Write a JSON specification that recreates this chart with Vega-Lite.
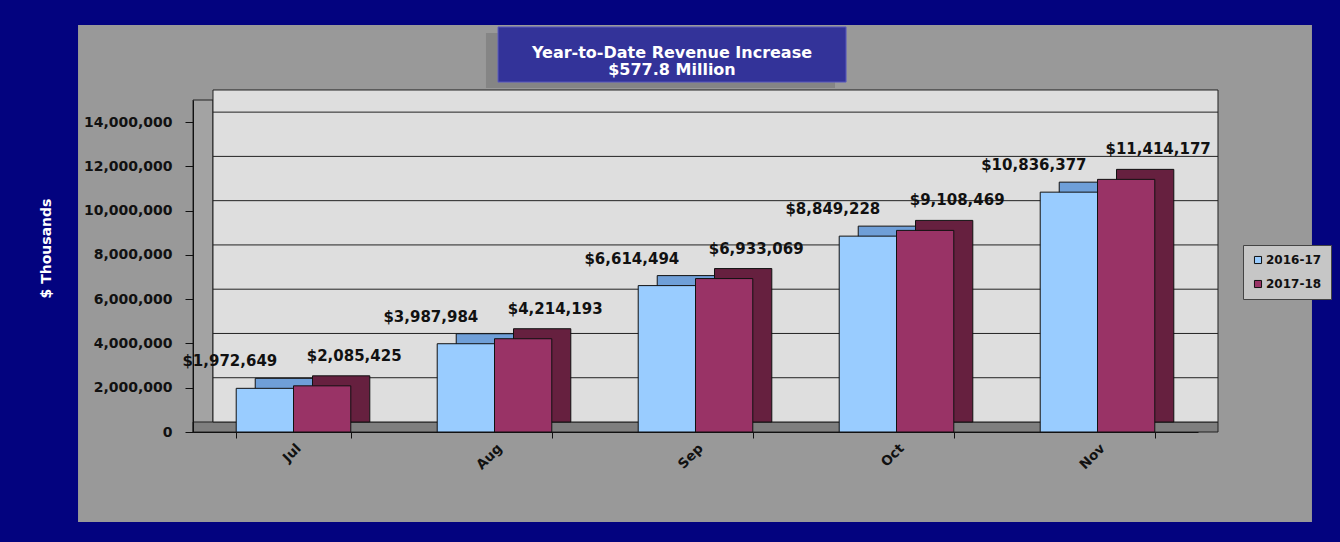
{
  "$schema": "https://vega.github.io/schema/vega-lite/v6.json",
  "width": 1005,
  "height": 332,
  "autosize": "none",
  "padding": {"left": 193, "top": 100, "right": 142, "bottom": 110},
  "background": "#03037f",
  "config": {
    "view": {"stroke": null},
    "font": "DejaVu Sans",
    "text": {"font": "DejaVu Sans"}
  },
  "datasets": {
    "revenue": [
      {"Month": "Jul", "Year": "2016-17", "Value": 1972649},
      {"Month": "Jul", "Year": "2017-18", "Value": 2085425},
      {"Month": "Aug", "Year": "2016-17", "Value": 3987984},
      {"Month": "Aug", "Year": "2017-18", "Value": 4214193},
      {"Month": "Sep", "Year": "2016-17", "Value": 6614494},
      {"Month": "Sep", "Year": "2017-18", "Value": 6933069},
      {"Month": "Oct", "Year": "2016-17", "Value": 8849228},
      {"Month": "Oct", "Year": "2017-18", "Value": 9108469},
      {"Month": "Nov", "Year": "2016-17", "Value": 10836377},
      {"Month": "Nov", "Year": "2017-18", "Value": 11414177}
    ],
    "grid": [
      {"Level": 2000000}, {"Level": 4000000}, {"Level": 6000000}, {"Level": 8000000},
      {"Level": 10000000}, {"Level": 12000000}, {"Level": 14000000}
    ]
  },
  "layer": [
    {
      "data": {"values": [{}]},
      "layer": [
        {
          "mark": {"type": "rect", "fill": "#999999"},
          "encoding": {
            "x": {"datum": -0.1144, "type": "quantitative", "scale": {"domain": [0, 1], "nice": false, "zero": false}, "axis": null},
            "x2": {"datum": 1.1134},
            "y": {"datum": -4066000, "type": "quantitative", "scale": {"domain": [0, 15000000], "nice": false}, "axis": null},
            "y2": {"datum": 18390000}
          }
        },
        {
          "mark": {"type": "rect", "fill": "#858585"},
          "encoding": {
            "x": {"datum": 0.2915, "type": "quantitative", "axis": null},
            "x2": {"datum": 0.6388},
            "y": {"datum": 15540000, "type": "quantitative", "axis": null},
            "y2": {"datum": 18030000}
          }
        },
        {
          "mark": {"type": "rect", "fill": "#333399", "stroke": "#5c5cc0", "strokeWidth": 1},
          "encoding": {
            "x": {"datum": 0.3035, "type": "quantitative", "axis": null},
            "x2": {"datum": 0.6498},
            "y": {"datum": 15810000, "type": "quantitative", "axis": null},
            "y2": {"datum": 18300000}
          }
        },
        {
          "mark": {"type": "text", "fill": "white", "font": "DejaVu Sans", "fontWeight": "bold", "fontSize": 16, "align": "center", "baseline": "middle", "lineHeight": 17},
          "encoding": {
            "x": {"datum": 0.4766, "type": "quantitative", "axis": null},
            "y": {"datum": 17120000, "type": "quantitative", "axis": null},
            "text": {"value": ["Year-to-Date  Revenue  Increase", "$577.8  Million"]}
          }
        },
        {
          "mark": {"type": "rect", "fill": "#a3a3a3", "stroke": "#222222", "strokeWidth": 1},
          "encoding": {
            "x": {"datum": 0, "type": "quantitative", "axis": null},
            "x2": {"datum": 0.0199},
            "y": {"datum": 0, "type": "quantitative", "axis": null},
            "y2": {"datum": 15000000}
          }
        },
        {
          "mark": {"type": "rect", "fill": "#7f7f7f", "stroke": "#222222", "strokeWidth": 1},
          "encoding": {
            "x": {"datum": 0, "type": "quantitative", "axis": null},
            "x2": {"datum": 1.0199},
            "y": {"datum": 0, "type": "quantitative", "axis": null},
            "y2": {"datum": 452000}
          }
        },
        {
          "mark": {"type": "rect", "fill": "#dedede", "stroke": "#222222", "strokeWidth": 1},
          "encoding": {
            "x": {"datum": 0.0199, "type": "quantitative", "axis": null},
            "x2": {"datum": 1.0199},
            "y": {"datum": 452000, "type": "quantitative", "axis": null},
            "y2": {"datum": 15452000}
          }
        },
        {
          "data": {"name": "grid"},
          "mark": {"type": "rule", "stroke": "#222222", "strokeWidth": 1, "yOffset": -10},
          "encoding": {
            "x": {"datum": 0.0199, "type": "quantitative", "axis": null},
            "x2": {"datum": 1.0199},
            "y": {"field": "Level", "type": "quantitative", "axis": null}
          }
        }
      ]
    },
    {
      "data": {"name": "revenue"},
      "mark": {"type": "bar", "yOffset": -10, "stroke": "#111111", "strokeWidth": 1},
      "encoding": {
        "x": {"field": "Month", "type": "nominal", "sort": ["Jul", "Aug", "Sep", "Oct", "Nov"], "scale": {"paddingInner": 0.43, "paddingOuter": 0.215, "align": 0.72}, "axis": null},
        "xOffset": {"field": "Year", "type": "nominal", "scale": {"domain": ["2016-17", "2017-18"], "paddingInner": 0, "paddingOuter": 0}},
        "y": {"field": "Value", "type": "quantitative", "scale": {"domain": [0, 15000000], "nice": false}, "axis": null},
        "fill": {"condition": {"test": "datum.Year === '2016-17'", "value": "#6f9fd8"}, "value": "#66203f"}
      }
    },
    {
      "data": {"name": "revenue"},
      "encoding": {
        "x": {
          "field": "Month", "type": "nominal", "sort": ["Jul", "Aug", "Sep", "Oct", "Nov"],
          "scale": {"paddingInner": 0.43, "paddingOuter": 0.215},
          "title": null,
          "axis": {
            "zindex": 2,
            "labelAngle": -45, "labelFont": "DejaVu Sans", "labelFontWeight": "bold", "labelFontSize": 13.5,
            "labelColor": "#111111", "labelPadding": 3, "tickBand": "extent", "tickSize": 6,
            "tickColor": "#111111", "domainColor": "#111111", "grid": false
          }
        },
        "xOffset": {"field": "Year", "type": "nominal", "scale": {"domain": ["2016-17", "2017-18"], "paddingInner": 0, "paddingOuter": 0}},
        "y": {
          "field": "Value", "type": "quantitative", "title": "$ Thousands",
          "scale": {"domain": [0, 15000000], "nice": false},
          "axis": {
            "zindex": 2,
            "values": [0, 2000000, 4000000, 6000000, 8000000, 10000000, 12000000, 14000000],
            "format": ",d", "labelFont": "DejaVu Sans", "labelFontWeight": "bold", "labelFontSize": 14,
            "labelColor": "#111111", "labelPadding": 13, "tickSize": 8, "tickColor": "#111111",
            "domainColor": "#111111", "grid": false,
            "titleColor": "white", "titleFont": "DejaVu Sans", "titleFontWeight": "bold", "titleFontSize": 14,
            "titleX": -147, "titleY": 148, "titleAngle": 270, "titleAlign": "center", "titleBaseline": "middle"
          }
        }
      },
      "layer": [
        {
          "mark": {"type": "bar", "stroke": "#111111", "strokeWidth": 1},
          "encoding": {
            "fill": {
              "field": "Year", "type": "nominal",
              "scale": {"domain": ["2016-17", "2017-18"], "range": ["#99ccff", "#993366"]},
              "legend": {
                "orient": "none", "legendX": 1050, "legendY": 145, "title": null,
                "fillColor": "#c6c6c6", "strokeColor": "#444444", "padding": 9,
                "symbolType": "square", "symbolSize": 50, "symbolStrokeColor": "#111111", "symbolStrokeWidth": 1,
                "labelFont": "DejaVu Sans", "labelFontWeight": "bold", "labelFontSize": 12, "labelColor": "#111111",
                "rowPadding": 12, "labelOffset": 2
              }
            }
          }
        },
        {
          "transform": [{"filter": "datum.Year === '2016-17'"}],
          "mark": {"type": "text", "font": "DejaVu Sans", "fontWeight": "bold", "fontSize": 15, "fill": "#111111", "dx": -35, "dy": -27, "baseline": "middle"},
          "encoding": {
            "text": {"field": "Value", "type": "quantitative", "format": "$,d"}
          }
        },
        {
          "transform": [{"filter": "datum.Year === '2017-18'"}],
          "mark": {"type": "text", "font": "DejaVu Sans", "fontWeight": "bold", "fontSize": 15, "fill": "#111111", "dx": 32, "dy": -30, "baseline": "middle"},
          "encoding": {
            "text": {"field": "Value", "type": "quantitative", "format": "$,d"}
          }
        }
      ]
    }
  ],
  "resolve": {"scale": {"x": "independent", "xOffset": "independent"}, "axis": {"y": "independent"}}
}
